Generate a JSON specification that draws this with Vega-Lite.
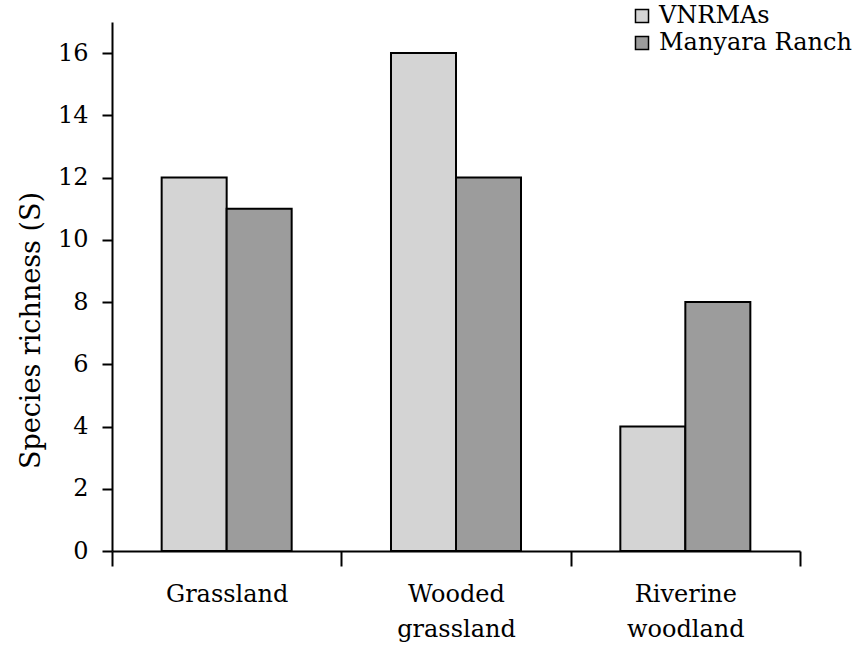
{
  "$schema": "https://vega.github.io/schema/vega-lite/v6.json",
  "width": 688,
  "height": 529,
  "autosize": "none",
  "padding": {"left": 112, "top": 22, "right": 66, "bottom": 104},
  "background": "white",
  "config": {"view": {"stroke": null}, "font": "DejaVu Serif"},
  "data": {"values": [
    {"habitat": "Grassland", "site": "VNRMAs", "richness": 12},
    {"habitat": "Grassland", "site": "Manyara Ranch", "richness": 11},
    {"habitat": "Wooded grassland", "site": "VNRMAs", "richness": 16},
    {"habitat": "Wooded grassland", "site": "Manyara Ranch", "richness": 12},
    {"habitat": "Riverine woodland", "site": "VNRMAs", "richness": 4},
    {"habitat": "Riverine woodland", "site": "Manyara Ranch", "richness": 8}
  ]},
  "mark": {"type": "bar", "stroke": "black", "strokeWidth": 2},
  "encoding": {
    "x": {
      "field": "habitat", "type": "nominal",
      "sort": ["Grassland", "Wooded grassland", "Riverine woodland"],
      "scale": {"paddingInner": 0, "paddingOuter": 0},
      "axis": {
        "title": null, "labelAngle": 0, "tickBand": "extent",
        "tickSize": 15, "tickColor": "black", "tickWidth": 2,
        "domainColor": "black", "domainWidth": 2,
        "labelFont": "DejaVu Serif", "labelFontSize": 24, "labelColor": "black",
        "labelPadding": 16, "labelBaseline": "top", "labelLineHeight": 35,
        "labelExpr": "!isString(datum.value) ? '' : (datum.value == 'Grassland' ? 'Grassland' : split(datum.value, ' '))"
      }
    },
    "xOffset": {
      "field": "site", "type": "nominal", "sort": ["VNRMAs", "Manyara Ranch"],
      "scale": {"paddingInner": 0, "paddingOuter": 0.764}
    },
    "y": {
      "field": "richness", "type": "quantitative",
      "scale": {"domain": [0, 17], "nice": false},
      "axis": {
        "title": "Species richness (S)", "values": [0, 2, 4, 6, 8, 10, 12, 14, 16],
        "grid": false, "tickSize": 10, "tickColor": "black", "tickWidth": 2,
        "domainColor": "black", "domainWidth": 2,
        "labelFont": "DejaVu Serif", "labelFontSize": 24, "labelColor": "black", "labelPadding": 14,
        "titleFont": "DejaVu Serif", "titleFontSize": 27, "titleFontWeight": "normal", "titleColor": "black",
        "titleX": -73, "titleY": 308, "titleAngle": -90, "titleAlign": "center", "titleBaseline": "alphabetic"
      }
    },
    "fill": {
      "field": "site", "type": "nominal",
      "scale": {"domain": ["VNRMAs", "Manyara Ranch"], "range": ["#d4d4d4", "#9c9c9c"]},
      "legend": {
        "title": null, "orient": "none", "legendX": 518, "legendY": -18,
        "symbolType": "square", "symbolSize": 170, "symbolStrokeColor": "black", "symbolStrokeWidth": 1.5,
        "labelFont": "DejaVu Serif", "labelFontSize": 24, "labelColor": "black",
        "labelOffset": 5, "rowPadding": 3, "labelLimit": 0
      }
    }
  }
}
